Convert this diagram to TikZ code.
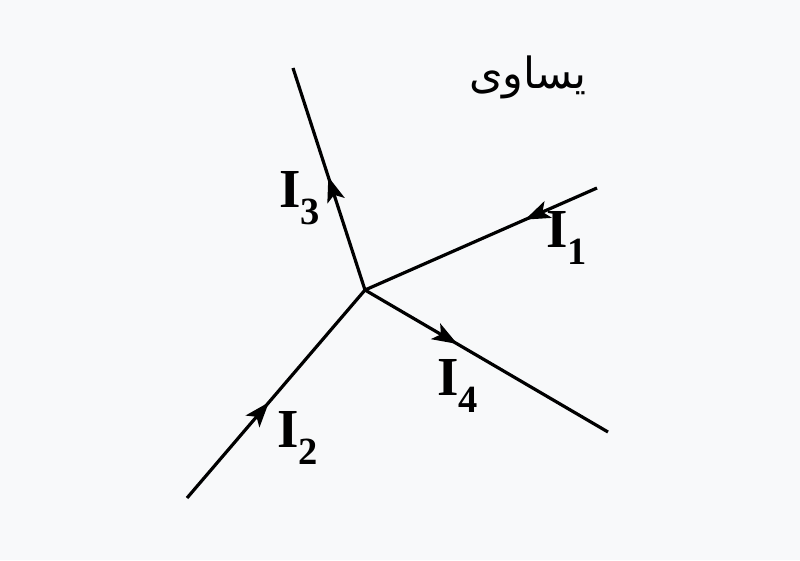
\documentclass[tikz,border=0pt]{standalone}
\usepackage{fontspec}
\setmainfont{Liberation Serif}
\newfontfamily\arabicfont[Script=Arabic]{DejaVu Sans}
\TeXXeTstate=1
\usetikzlibrary{arrows.meta,decorations.markings}
\definecolor{bg}{HTML}{F8F9FA}
\tikzset{
  wire/.style={line width=3.2pt, black},
  arrowat/.style={postaction={decorate},decoration={markings,
     mark=at position #1 with {\arrow{Stealth[length=25pt,width=18pt,inset=6pt]}}}},
  lbl/.style={font=\fontsize{55}{60}\selectfont\bfseries, inner sep=0pt},
  arlbl/.style={font=\arabicfont\fontsize{43}{46}\selectfont, inner sep=0pt}
}
\begin{document}
\begin{tikzpicture}[x=1pt,y=-1pt]
\fill[bg] (0,0) rectangle (800,560);
\useasboundingbox (0,0) rectangle (800,560);
\coordinate (J) at (365,290);
\coordinate (E1) at (597,188);
\coordinate (E2) at (187,498);
\coordinate (E3) at (293,68);
\coordinate (E4) at (608,432);
\draw[wire, arrowat=0.31] (E1) -- (J);
\draw[wire, arrowat=0.46] (E2) -- (J);
\draw[wire, arrowat=0.51] (J) -- (E3);
\draw[wire, arrowat=0.38] (J) -- (E4);
\node[lbl] (L1) at (567,238) {I$_{\mathbf 1}$};
\node[lbl] (L2) at (298,438) {I$_{\mathbf 2}$};
\node[lbl] (L3) at (300,198) {I$_{\mathbf 3}$};
\node[lbl] (L4) at (458,386) {I$_{\mathbf 4}$};
\node[arlbl] (T) at (528,77) {\beginR يساوى\endR};
\end{tikzpicture}
\end{document}
